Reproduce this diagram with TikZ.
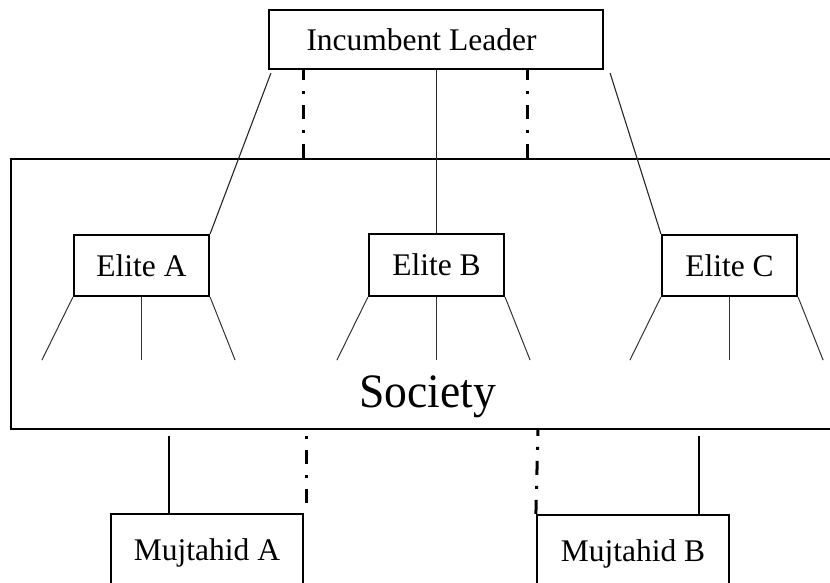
\documentclass[tikz,border=0pt]{standalone}
\usepackage{fontspec}
\setmainfont{Liberation Serif}
\usetikzlibrary{calc}
\begin{document}
\begin{tikzpicture}[x=1pt,y=-1pt,
  box/.style={draw,line width=2.2pt,rectangle,inner sep=0pt,font=\fontsize{31.5}{36}\selectfont},
  txt/.style={inner sep=0pt,font=\fontsize{31.5}{36}\selectfont},
  thin/.style={line width=1.1pt,draw=black!85},
  fan/.style={line width=1pt,draw=black!80},
  dashdot/.style={line width=3pt,dash pattern=on 14pt off 11pt on 3pt off 11pt},
  heavy/.style={line width=2.8pt}]
\useasboundingbox (0,0) rectangle (830,582);
\clip (0,0) rectangle (830,582);
% Society region
\node[draw,line width=2.4pt,rectangle,minimum width=840pt,minimum height=270pt,inner sep=0pt,anchor=north west] (S) at (10,158) {};
\node[anchor=base,font=\fontsize{48}{56}\selectfont,xscale=0.95] (soc) at (427.5,407) {Society};
% nodes
\node[box,minimum width=334pt,minimum height=59pt] (L) at (436,39.5) {};
\node[txt] (Lt) at (421.5,40) {Incumbent Leader};
\node[box,minimum width=135pt,minimum height=61pt] (EA) at (141.5,265.5) {Elite A};
\node[box,minimum width=135pt,minimum height=62pt] (EB) at (436.5,265) {Elite B};
\node[box,minimum width=135pt,minimum height=61pt] (EC) at (729.5,265.5) {Elite C};
\node[box,minimum width=192pt,minimum height=78pt] (MA) at (207,553) {Mujtahid A};
\node[box,minimum width=192pt,minimum height=78pt] (MB) at (633,554) {Mujtahid B};
% leader to elites
\coordinate (la) at ($(L.south west)+(3,3)$);
\coordinate (lc) at ($(L.south east)+(6,3)$);
\draw[thin] (la) -- (EA.north east);
\draw[thin] (EB.north) -- (EB.north |- L.south);
\draw[thin] (lc) -- (EC.north west);
% elite fans
\foreach \e in {EA,EB,EC}{
  \coordinate (\e l) at ($(\e.south west)+(-31,63)$);
  \coordinate (\e r) at ($(\e.south east)+(25,63)$);
  \coordinate (\e m) at ($(\e.south)+(0,63)$);
  \draw[fan] (\e.south west) -- (\e l);
  \draw[fan] (\e.south) -- (\e m);
  \draw[fan] (\e.south east) -- (\e r);
}
% dash-dot links leader - society
\coordinate (d1) at (303,158);
\coordinate (d2) at (527,158);
\draw[dashdot] (d1) -- (d1 |- L.south);
\draw[dashdot] (d2) -- (d2 |- L.south);
% links society - mujtahids
\coordinate (sa) at (169,436);
\draw[heavy] (sa) -- (sa |- MA.north);
\coordinate (da1) at (306,503);
\coordinate (da2) at (306,429);
\draw[dashdot] (da1) -- (da2);
\coordinate (sb) at (699,436);
\draw[heavy] (sb) -- (sb |- MB.north);
\coordinate (db) at (538,429);
\draw[dashdot] (MB.north west) -- (db);
\end{tikzpicture}
\end{document}
